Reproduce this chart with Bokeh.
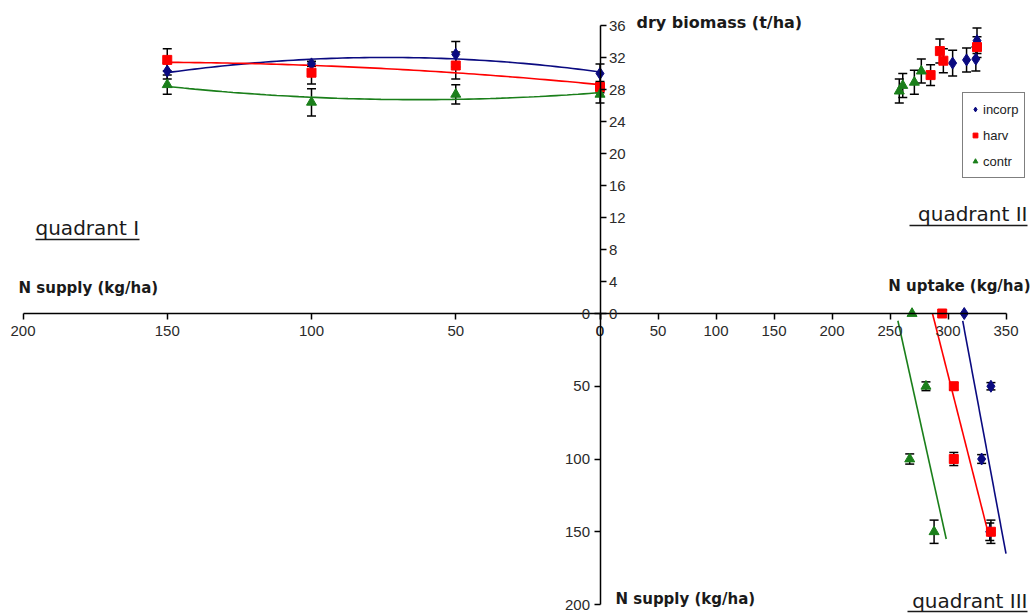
import numpy as np
from bokeh.plotting import figure
from bokeh.models import (Range1d, LinearAxis, FixedTicker, Whisker, TeeHead,
                          ColumnDataSource, Legend, LegendItem, Label)
from bokeh.embed import file_html
from bokeh.resources import INLINE

# ---------------- data ----------------
series_names = ["incorp", "harv", "contr"]

# quadrant I : dry biomass (t/ha) against N supply (kg/ha)
supply_q1 = [150, 100, 50, 0]
incorp_biomass_q1 = [30.3, 31.2, 32.4, 30.0]
harv_biomass_q1 = [31.7, 30.1, 31.0, 28.3]
contr_biomass_q1 = [28.6, 26.4, 27.4, 27.4]
incorp_err_q1 = [1.0, 0.3, 1.6, 1.2]
harv_err_q1 = [1.4, 1.4, 1.7, 0.7]
contr_err_q1 = [1.2, 1.7, 1.2, 1.1]

# quadrant II : dry biomass (t/ha) against N uptake (kg/ha)
incorp_uptake_q2 = [304, 316, 325, 324]
incorp_biomass_q2 = [31.3, 31.7, 34.1, 31.8]
incorp_err_q2 = [1.6, 1.5, 1.6, 1.5]
harv_uptake_q2 = [285, 293, 296, 325]
harv_biomass_q2 = [29.8, 32.8, 31.6, 33.3]
harv_err_q2 = [1.3, 1.5, 1.5, 1.3]
contr_uptake_q2 = [258, 261, 271, 277]
contr_biomass_q2 = [27.8, 28.5, 28.9, 30.3]
contr_err_q2 = [1.5, 1.5, 1.5, 1.5]

# quadrant III : N supply (kg/ha) against N uptake (kg/ha)
supply_q3 = [0, 50, 100, 150]
incorp_uptake_q3 = [314, 337, 329, 336]
harv_uptake_q3 = [295, 305, 305, 337]
contr_uptake_q3 = [269, 281, 267, 288]
incorp_err_q3 = [0, 2.5, 3.0, 6.0]
harv_err_q3 = [0, 2.5, 4.5, 8.0]
contr_err_q3 = [0, 3.0, 3.5, 8.0]
incorp_trend_span = [5, 165]
harv_trend_span = [0, 148]
contr_trend_span = [5, 155]

supply_ticks = [0, 50, 100, 150, 200]
uptake_ticks = [0, 50, 100, 150, 200, 250, 300, 350]
biomass_ticks = [0, 4, 8, 12, 16, 20, 24, 28, 32, 36]

# ---------------- geometry / style ----------------
W, H = 1035, 613
FL, FR, FT, FB = 0, W, 0, H                   # frame edges in picture pixels
X0, Y0 = 599.5, 313.0                         # axis cross in picture pixels
PX_UPT, PX_SUPX, PX_BIO, PX_SUPY = 1.16, 2.885, 8.0, 1.455

def ux(px):   # picture x -> uptake units
    return (px - X0) / PX_UPT

def by(py):   # picture y -> biomass units
    return (Y0 - py) / PX_BIO

BLUE, RED, GREEN = "#0a0a80", "#ff0000", "#1a7f1a"
colors = [BLUE, RED, GREEN]
markers = ["diamond", "square", "triangle"]
msizes = [12, 9, 10]
TICK_FONT = "Liberation Sans"
FONT = "DejaVu Sans"

p = figure(width=W, height=H,
           x_range=Range1d((FL - X0) / PX_UPT, (FR - X0) / PX_UPT),
           y_range=Range1d((Y0 - FB) / PX_BIO, (Y0 - FT) / PX_BIO),
           x_axis_type=None, y_axis_type=None,
           toolbar_location=None, output_backend="svg", min_border=0,
           outline_line_color=None, background_fill_color="white",
           border_fill_color="white")
p.extra_x_ranges = {"supx": Range1d((X0 - FL) / PX_SUPX, (X0 - FR) / PX_SUPX)}
p.extra_y_ranges = {"supy": Range1d((FB - Y0) / PX_SUPY, (FT - Y0) / PX_SUPY)}


def style_axis(ax, standoff):
    ax.axis_line_color = "black"
    ax.axis_line_width = 1.5
    ax.major_tick_line_color = "black"
    ax.major_tick_line_width = 1.5
    ax.major_tick_out = 6
    ax.major_tick_in = 0
    ax.minor_tick_line_color = None
    ax.major_label_text_font = TICK_FONT
    ax.major_label_text_font_size = "15px"
    ax.major_label_text_color = "#2a2a2a"
    ax.major_label_standoff = standoff


ax_supx = LinearAxis(x_range_name="supx", bounds=(0, 200),
                     ticker=FixedTicker(ticks=supply_ticks), fixed_location=0)
style_axis(ax_supx, 6)
p.add_layout(ax_supx, "below")

ax_upt = LinearAxis(bounds=(0, 350), ticker=FixedTicker(ticks=uptake_ticks),
                    fixed_location=0)
style_axis(ax_upt, 6)
p.add_layout(ax_upt, "below")

ax_bio = LinearAxis(bounds=(0, 36), ticker=FixedTicker(ticks=biomass_ticks),
                    fixed_location=0)
style_axis(ax_bio, 3)
p.add_layout(ax_bio, "right")

ax_supy = LinearAxis(y_range_name="supy", bounds=(0, 200),
                     ticker=FixedTicker(ticks=supply_ticks), fixed_location=0)
style_axis(ax_supy, 4)
p.add_layout(ax_supy, "left")

# ---------------- quadrant I ----------------
q1_vals = [incorp_biomass_q1, harv_biomass_q1, contr_biomass_q1]
q1_errs = [incorp_err_q1, harv_err_q1, contr_err_q1]
xs_fit = np.linspace(0, 150, 80)
for vals, c in zip(q1_vals, colors):
    coef = np.polyfit(supply_q1, vals, 2)
    p.line(xs_fit, np.polyval(coef, xs_fit), x_range_name="supx",
           line_color=c, line_width=1.6)
for vals, errs, c, m, s in zip(q1_vals, q1_errs, colors, markers, msizes):
    src = ColumnDataSource(dict(x=supply_q1, y=vals,
                                lo=[v - e for v, e in zip(vals, errs)],
                                hi=[v + e for v, e in zip(vals, errs)]))
    p.scatter("x", "y", source=src, x_range_name="supx", marker=m, size=s,
              fill_color=c, line_color=c)
    p.add_layout(Whisker(source=src, base="x", lower="lo", upper="hi",
                         dimension="height", x_range_name="supx",
                         line_color="black", line_width=1.5,
                         upper_head=TeeHead(size=9, line_color="black", line_width=1.5),
                         lower_head=TeeHead(size=9, line_color="black", line_width=1.5)))

# ---------------- quadrant II ----------------
q2_x = [incorp_uptake_q2, harv_uptake_q2, contr_uptake_q2]
q2_y = [incorp_biomass_q2, harv_biomass_q2, contr_biomass_q2]
q2_e = [incorp_err_q2, harv_err_q2, contr_err_q2]
legend_renderers = []
for xv, yv, ev, c, m, s in zip(q2_x, q2_y, q2_e, colors, markers, msizes):
    src = ColumnDataSource(dict(x=xv, y=yv,
                                lo=[v - e for v, e in zip(yv, ev)],
                                hi=[v + e for v, e in zip(yv, ev)]))
    r = p.scatter("x", "y", source=src, marker=m, size=s,
                  fill_color=c, line_color=c)
    legend_renderers.append(r)
    p.add_layout(Whisker(source=src, base="x", lower="lo", upper="hi",
                         dimension="height", line_color="black", line_width=1.5,
                         upper_head=TeeHead(size=9, line_color="black", line_width=1.5),
                         lower_head=TeeHead(size=9, line_color="black", line_width=1.5)))

# ---------------- quadrant III ----------------
q3_x = [incorp_uptake_q3, harv_uptake_q3, contr_uptake_q3]
q3_e = [incorp_err_q3, harv_err_q3, contr_err_q3]
spans = [incorp_trend_span, harv_trend_span, contr_trend_span]
for xv, sp, c in zip(q3_x, spans, colors):
    slope, icpt = np.polyfit(xv, supply_q3, 1)
    sy = np.array(sp, dtype=float)
    p.line((sy - icpt) / slope, sy, y_range_name="supy", line_color=c,
           line_width=1.6)
for xv, ev, c, m, s in zip(q3_x, q3_e, colors, markers, msizes):
    src = ColumnDataSource(dict(x=xv, y=supply_q3))
    p.scatter("x", "y", source=src, y_range_name="supy", marker=m, size=s,
              fill_color=c, line_color=c)
    wsrc = ColumnDataSource(dict(x=[a for a, e in zip(xv, ev) if e > 0],
                                 lo=[v - e for v, e in zip(supply_q3, ev) if e > 0],
                                 hi=[v + e for v, e in zip(supply_q3, ev) if e > 0]))
    p.add_layout(Whisker(source=wsrc, base="x", lower="lo", upper="hi",
                         dimension="height", y_range_name="supy",
                         line_color="black", line_width=1.5,
                         upper_head=TeeHead(size=9, line_color="black", line_width=1.5),
                         lower_head=TeeHead(size=9, line_color="black", line_width=1.5)))

# ---------------- legend ----------------
legend = Legend(items=[LegendItem(label=n, renderers=[r])
                       for n, r in zip(series_names, legend_renderers)],
                location=(962, H - 178), orientation="vertical",
                border_line_color="black", border_line_width=1.2,
                background_fill_color="white", background_fill_alpha=1,
                label_text_font=TICK_FONT, label_text_font_size="13px",
                label_text_color="#222222", glyph_width=12, glyph_height=20,
                label_height=20, spacing=6, padding=6, margin=0,
                label_standoff=2)
p.add_layout(legend)

# ---------------- texts ----------------
def add_label(text, px, py, size, bold=False, align="left"):
    p.add_layout(Label(x=ux(px), y=by(py), text=text, text_font=FONT,
                       text_font_size=size, text_align=align,
                       text_baseline="middle", text_color="#1a1a1a",
                       text_font_style="bold" if bold else "normal"))

add_label("dry biomass (t/ha)", 636, 22, "16px", bold=True)
add_label("N supply (kg/ha)", 18, 287, "15px", bold=True)
add_label("N uptake (kg/ha)", 1030, 285, "15px", bold=True, align="right")
add_label("N supply (kg/ha)", 615, 598, "15px", bold=True)
add_label("quadrant I", 35, 227, "20px")
add_label("quadrant II", 1027, 213, "20px", align="right")
add_label("quadrant III", 1027, 600, "20px", align="right")

ul_x0 = [ux(35), ux(909), ux(907)]
ul_x1 = [ux(139), ux(1027), ux(1027)]
ul_y = [by(239), by(225), by(611)]
p.segment(x0=ul_x0, y0=ul_y, x1=ul_x1, y1=ul_y, line_color="#1a1a1a",
          line_width=1.5)

open("out.html", "w").write(file_html(p, INLINE))
